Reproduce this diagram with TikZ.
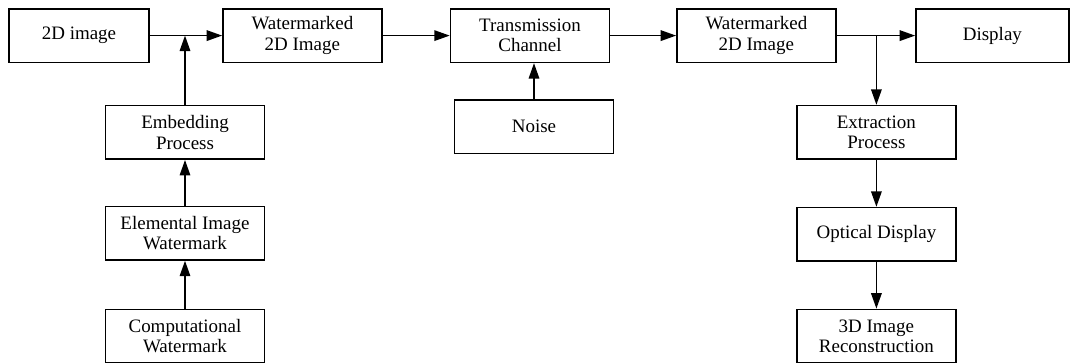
\documentclass[tikz,border=0pt]{standalone}
\usepackage{fontspec}
\setmainfont{Liberation Serif}
\usepackage{tikz}
\usetikzlibrary{arrows.meta}
\newcommand{\boxwidth}{3.975cm}
\newcommand{\boxheight}{1.34cm}

\begin{document}
\begin{tikzpicture}[->,>={Triangle[length=11pt,width=7.5pt]},line width=1.1pt,font=\fontsize{13.5}{14.5}\selectfont]
    \tikzstyle{block}=[draw=black,rectangle,align=center,minimum width=\boxwidth,minimum height=\boxheight,inner sep=2pt]
    \useasboundingbox (0,0) rectangle (26.775,-9.075);
    \node[block,minimum width=3.5cm] (img) at (1.975,-0.89) {2D image};
    \node[block] (wm1) at (7.56,-0.89) {Watermarked\\2D Image};
    \node[block] (chan) at (13.25,-0.89) {Transmission\\Channel};
    \node[block] (wm2) at (18.91,-0.89) {Watermarked\\2D Image};
    \node[block,minimum width=3.825cm] (disp) at (24.81,-0.89) {Display};
    \node[block] (embed) at (4.625,-3.31) {Embedding\\Process};
    \node[block] (elem) at (4.625,-5.83) {Elemental Image\\Watermark};
    \node[block] (comp) at (4.625,-8.405) {Computational\\Watermark};
    \node[block] (noise) at (13.35,-3.17) {Noise};
    \node[block] (extract) at (21.91,-3.31) {Extraction\\Process};
    \node[block] (optic) at (21.91,-5.86) {Optical Display};
    \node[block] (recon) at (21.91,-8.405) {3D Image\\Reconstruction};
    \coordinate (join1) at (embed.north |- img.east);
    \coordinate (join2) at (extract.north |- wm2.east);
    \path (img) edge (wm1);
    \path (wm1) edge (chan);
    \path (chan) edge (wm2);
    \path (wm2) edge (disp);
    \path (embed) edge (join1);
    \path (elem) edge (embed);
    \path (comp) edge (elem);
    \path (noise) edge (noise |- chan.south);
    \path (join2) edge (extract);
    \path (extract) edge (optic);
    \path (optic) edge (recon);
\end{tikzpicture}
\end{document}
